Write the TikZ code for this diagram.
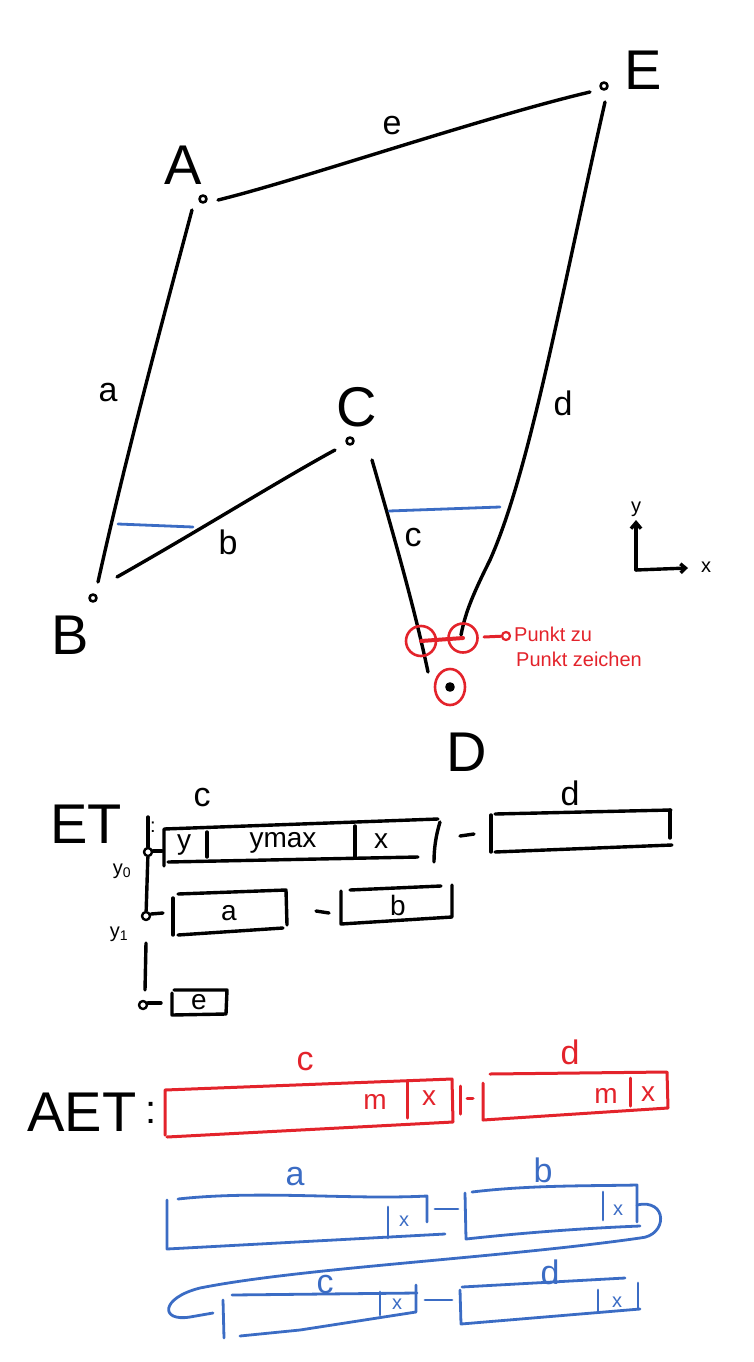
\documentclass[tikz,border=0pt]{standalone}
\usepackage{fontspec}
\setmainfont{Liberation Sans}
\usetikzlibrary{arrows.meta,shapes.geometric}
\definecolor{pred}{HTML}{E3232B}
\definecolor{pblue}{HTML}{3B6CC4}
\begin{document}
\begin{tikzpicture}[x=1pt,y=-1pt,line cap=round,line join=round,
  ink/.style={line width=3.4pt,black},
  rink/.style={line width=3pt,pred},
  bink/.style={line width=2.8pt,pblue},
  vpt/.style={circle,draw,line width=2.6pt,inner sep=0pt,minimum size=7pt},
  big/.style={inner sep=0pt,font=\fontsize{56}{60}\selectfont},
  mid/.style={inner sep=0pt,font=\fontsize{34}{38}\selectfont},
  sml/.style={inner sep=0pt,font=\fontsize{28}{32}\selectfont},
  tiny/.style={inner sep=0pt,font=\fontsize{20}{24}\selectfont}]
\useasboundingbox (0,0) rectangle (754,1362);
% ---------- polygon ----------
\node[vpt] (A) at (203,199) {};
\node[vpt] (E) at (604,86) {};
\node[vpt] (B) at (93,598) {};
\node[vpt] (C) at (350,441) {};
\node[vpt,fill] (D) at (450,687) {};
\node[big] (lA) at (183,165) {A};
\node[big] (lE) at (643,70) {E};
\node[big] (lB) at (70,635) {B};
\node[big] (lC) at (357,407) {C};
\node[big] (lD) at (467,752) {D};
\coordinate (ae1) at (218,200); \coordinate (ae2) at (590,92);
\coordinate (ab1) at (192,210); \coordinate (ab2) at (98,582);
\coordinate (bc1) at (117,577); \coordinate (bc2) at (335,450);
\coordinate (cd1) at (372,460); \coordinate (cd2) at (428,672);
\coordinate (ed1) at (605,102); \coordinate (ed2) at (461,635);
\draw[ink] (ae1) .. controls (300,180) and (480,118) .. (ae2);
\draw[ink] (ab1) .. controls (160,330) and (125,460) .. (ab2);
\draw[ink] (bc1) .. controls (200,530) and (280,480) .. (bc2);
\draw[ink] (cd1) .. controls (395,540) and (415,610) .. (cd2);
\draw[ink] (ed1) .. controls (560,300) and (530,470) .. (490,560) .. controls (470,600) and (465,615) .. (ed2);
\node[mid] (le) at (392,126) {e};
\node[mid] (la) at (108,393) {a};
\node[mid] (lb) at (228,542) {b};
\node[mid] (lc) at (413,538) {c};
\node[mid] (ld) at (563,403) {d};
% scan lines
\coordinate (s1a) at (118,524); \coordinate (s1b) at (193,527);
\coordinate (s2a) at (389,511); \coordinate (s2b) at (500,507);
\draw[bink] (s1a) -- (s1b);
\draw[bink] (s2a) -- (s2b);
% red marks
\node[circle,draw=pred,line width=2.6pt,minimum size=30pt,inner sep=0pt] (r1) at (421,641) {};
\node[circle,draw=pred,line width=2.6pt,minimum size=29pt,inner sep=0pt] (r2) at (463,638) {};
\draw[rink,line width=4pt] (r1.center) -- (r2.center);
\node[ellipse,draw=pred,line width=2.6pt,minimum width=30pt,minimum height=36pt,inner sep=0pt] (rD) at (450,687) {};
\node[circle,draw=pred,line width=2.2pt,minimum size=8pt,inner sep=0pt] (rc) at (506,636) {};
\coordinate (rl) at (484,637);
\draw[rink] (rl) -- (rc);
\node[tiny,text=pred,anchor=west] (t1) at (514,634) {Punkt zu};
\node[tiny,text=pred,anchor=west] (t2) at (516,659) {Punkt zeichen};
% axes
\coordinate (O) at (636,570);
\coordinate (Oy) at (636,520);
\coordinate (Ox) at (688,568);
\draw[ink,-{Straight Barb[length=6pt,width=10pt]}] (O) -- (Oy);
\draw[ink,-{Straight Barb[length=5pt,width=9pt]}] (O) -- (Ox);
\node[tiny] (ly) at (636,509) {y};
\node[tiny] (lx) at (706,567) {x};
% ---------- ET ----------
\node[big] (ET) at (86,824) {ET};
\node[tiny] (ETc) at (153,827) {:};
\node[circle,draw,line width=2.4pt,minimum size=8pt,inner sep=0pt] (y0) at (148,852) {};
\node[circle,draw,line width=2.4pt,minimum size=8pt,inner sep=0pt] (y1) at (146,916) {};
\node[circle,draw,line width=2.4pt,minimum size=8pt,inner sep=0pt] (y2) at (143,1005) {};
\coordinate (ytop) at (148,817);
\coordinate (yg1) at (146,943);
\coordinate (yg2) at (145,990);
\draw[ink] (ytop) -- (y0);
\draw[ink] (y0) -- (y1);
\draw[ink] (yg1) -- (yg2);
\node[tiny] (ly0) at (122,871) {y\textsubscript{0}};
\node[tiny] (ly1) at (119,934) {y\textsubscript{1}};
% row 1
\draw[ink] (164,866) -- (164,829) -- (438,819);
\draw[ink] (168,862) -- (418,857);
\draw[ink] (440,822) .. controls (436,835) and (434,848) .. (434,862);
\draw[ink] (207,832) -- (207,857);
\draw[ink] (355,826) -- (355,858);
\node[sml] (ty) at (184,845) {y};
\node[sml] (tymax) at (283,843) {ymax};
\node[sml] (tx) at (381,841) {x};
\node[mid] (ETlc) at (202,798) {c};
\node[mid] (ETld) at (570,793) {d};
\coordinate (c0a) at (153,851); \coordinate (c0b) at (162,851);
\draw[ink] (c0a) -- (c0b);
\coordinate (r1a) at (460,836); \coordinate (r1b) at (474,834);
\draw[ink] (r1a) -- (r1b);
\draw[ink] (491,852) -- (491,815);
\draw[ink] (495,814) -- (671,810);
\draw[ink] (495,852) -- (672,845);
\draw[ink] (670,810) -- (670,838);
% row 2
\coordinate (c1a) at (151,914); \coordinate (c1b) at (163,913);
\draw[ink] (c1a) -- (c1b);
\draw[ink] (173,898) -- (173,935);
\draw[ink] (178,894) -- (286,890) -- (287,925);
\draw[ink] (178,935) -- (283,928);
\node[sml] (ta) at (229,913) {a};
\coordinate (r2a) at (316,911); \coordinate (r2b) at (329,913);
\draw[ink] (r2a) -- (r2b);
\draw[ink] (341,891) -- (341,924) -- (452,917) -- (452,885);
\draw[ink] (350,890) -- (441,886);
\node[sml] (tb) at (398,905) {b};
% row 3
\coordinate (c2a) at (148,1003); \coordinate (c2b) at (161,1003);
\draw[ink] (c2a) -- (c2b);
\draw[ink] (172,993) -- (172,1015) -- (226,1014) -- (227,990) -- (174,990);
\node[sml] (te) at (199,1002) {e};
% ---------- AET ----------
\node[big] (AET) at (82,1112) {AET};
\node[big,font=\fontsize{40}{44}\selectfont] (AETc) at (151,1113) {:};
% red c
\draw[rink] (165,1135) -- (165,1090) -- (452,1079) -- (453,1122) -- (167,1137);
\draw[rink] (407,1082) -- (407,1118);
\node[sml,text=pred] (rm1) at (375,1102) {m};
\node[sml,text=pred] (rx1) at (429,1098) {x};
\node[mid,text=pred] (rlc) at (305,1062) {c};
\coordinate (rk1) at (460,1086); \coordinate (rk2) at (460,1114);
\draw[rink] (rk1) -- (rk2);
\coordinate (rk3) at (467,1098); \coordinate (rk4) at (473,1098);
\draw[rink] (rk3) -- (rk4);
% red d
\draw[rink] (483,1083) -- (483,1120) -- (668,1108) -- (667,1072) -- (490,1074);
\draw[rink] (630,1078) -- (630,1106);
\node[sml,text=pred] (rm2) at (606,1096) {m};
\node[sml,text=pred] (rx2) at (648,1094) {x};
\node[mid,text=pred] (rld) at (570,1052) {d};
% blue a
\draw[bink] (167,1200) -- (167,1249) -- (445,1234);
\draw[bink] (178,1199) .. controls (260,1190) and (350,1200) .. (427,1196) -- (427,1222);
\draw[bink] (388,1207) -- (388,1238);
\node[tiny,text=pblue] (bx1) at (404,1221) {x};
\node[mid,text=pblue] (bla) at (295,1177) {a};
\coordinate (bk1) at (435,1209); \coordinate (bk2) at (458,1209);
\draw[bink] (bk1) -- (bk2);
% blue b
\draw[bink] (465,1193) -- (466,1239) .. controls (530,1232) and (590,1228) .. (640,1226);
\draw[bink] (472,1192) .. controls (530,1185) and (590,1186) .. (637,1185) -- (637,1222);
\draw[bink] (603,1192) -- (603,1220);
\node[tiny,text=pblue] (bx2) at (618,1210) {x};
\node[mid,text=pblue] (blb) at (543,1170) {b};
% loop
\coordinate (lp1) at (637,1205);
\coordinate (lp2) at (213,1313);
\draw[bink] (lp1) .. controls (668,1198) and (668,1236) .. (640,1238)
  .. controls (500,1258) and (300,1268) .. (200,1288)
  .. controls (160,1298) and (160,1322) .. (190,1317) -- (lp2);
% blue c
\draw[bink] (223,1300) -- (224,1338);
\draw[bink] (232,1295) -- (417,1293);
\draw[bink] (416,1285) -- (416,1312) -- (300,1330) -- (240,1336);
\draw[bink] (380,1292) -- (380,1315);
\node[tiny,text=pblue] (bx3) at (397,1304) {x};
\node[mid,text=pblue] (blc) at (325,1285) {c};
\coordinate (bk3) at (425,1300); \coordinate (bk4) at (452,1300);
\draw[bink] (bk3) -- (bk4);
% blue d
\draw[bink] (460,1290) -- (461,1324) -- (640,1309);
\draw[bink] (462,1287) -- (625,1278);
\draw[bink] (638,1283) -- (638,1308);
\draw[bink] (598,1290) -- (598,1312);
\node[tiny,text=pblue] (bx4) at (617,1302) {x};
\node[mid,text=pblue] (bld) at (550,1272) {d};
\end{tikzpicture}
\end{document}
